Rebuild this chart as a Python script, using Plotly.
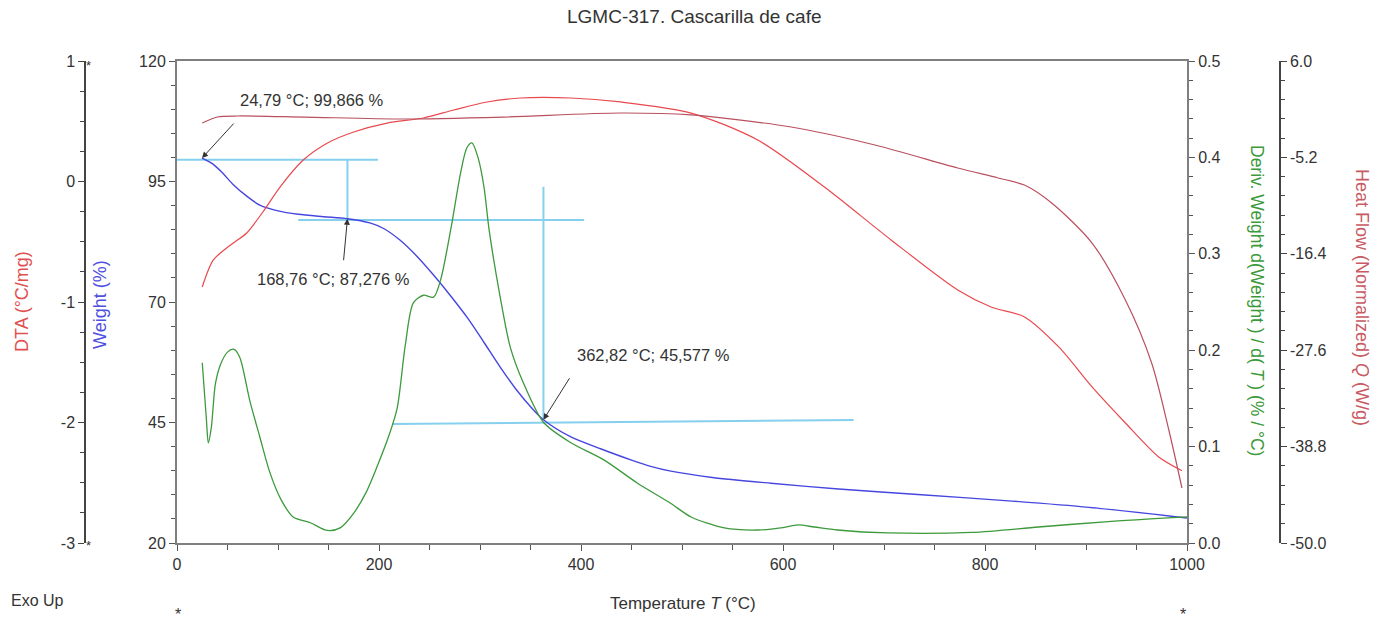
import plotly.graph_objects as go

# ---------------- data ----------------
weight_T = [24.79, 35, 45, 55, 70, 82, 100, 120, 145, 168.76, 191, 205, 221, 237, 254, 270, 288, 304,
            320, 336, 353, 362.82, 390, 420, 450, 469, 489, 530, 588, 655, 737, 820, 903, 1000]
weight_v = [99.866, 98.7, 96.8, 94.5, 91.8, 90.1, 88.9, 88.2, 87.7, 87.276, 86.4, 85.2, 82.8, 79.6, 75.6,
            71.5, 66.6, 61.6, 56.5, 51.8, 47.6, 45.577, 42.0, 39.5, 37.2, 35.9, 34.9, 33.6, 32.4, 31.2,
            30.0, 28.8, 27.4, 25.2]

deriv_T = [25, 29, 31, 34, 38, 43, 50, 56, 62, 72, 82, 92, 103, 115, 132, 149, 162, 175, 187, 198, 210,
           218, 226, 234, 244, 254, 261, 271, 281, 287, 292, 298, 304, 309, 320, 330, 343, 363, 390, 423,
           456, 489, 509, 542, 575, 600, 615, 631, 654, 704, 787, 853, 919, 1000]
deriv_v = [0.187, 0.13, 0.104, 0.12, 0.165, 0.185, 0.198, 0.201, 0.193, 0.148, 0.110, 0.073, 0.045, 0.027,
           0.021, 0.013, 0.016, 0.031, 0.052, 0.079, 0.112, 0.140, 0.205, 0.249, 0.257, 0.255, 0.273,
           0.325, 0.385, 0.410, 0.415, 0.400, 0.369, 0.325, 0.255, 0.203, 0.166, 0.125, 0.104, 0.086,
           0.062, 0.041, 0.027, 0.0156, 0.0135, 0.016, 0.0187, 0.0166, 0.0135, 0.0104, 0.011, 0.0166,
           0.022, 0.027]

dta_T = [25, 36, 53, 69, 85, 102, 125, 149, 175, 208, 244, 274, 307, 340, 390, 439, 509, 575, 641, 707,
         773, 806, 839, 873, 906, 939, 972, 995]
dta_v = [-0.876, -0.651, -0.527, -0.427, -0.253, -0.046, 0.178, 0.320, 0.411, 0.485, 0.527, 0.593, 0.660,
         0.693, 0.693, 0.660, 0.568, 0.344, -0.046, -0.485, -0.900, -1.041, -1.124, -1.373, -1.705,
         -2.004, -2.286, -2.40]

hf_T = [25, 40, 60, 125, 224, 323, 439, 509, 608, 691, 773, 813, 839, 866, 906, 939, 965, 982, 995]
hf_v = [-1.20, -0.51, -0.39, -0.51, -0.74, -0.51, -0.04, -0.27, -1.67, -3.76, -6.43, -7.59, -8.41,
        -10.50, -15.15, -21.77, -29.09, -36.87, -43.61]

# marked points (temperature, weight) and their labels
mark_T = [24.79, 168.76, 362.82]
mark_W = [99.866, 87.276, 45.577]
mark_labels = ["24,79 °C; 99,866 %", "168,76 °C; 87,276 %", "362,82 °C; 45,577 %"]

# guide (step) lines in (temperature, weight) units
guide_x0 = [0, 168.76, 120, 362.82, 213]
guide_y0 = [99.5, 99.5, 87.0, 93.9, 44.7]
guide_x1 = [199, 168.76, 403, 362.82, 670]
guide_y1 = [99.5, 87.0, 87.0, 45.577, 45.5]

dta_ticks = [1, 0, -1, -2, -3]
hf_ticks = [6.0, -5.2, -16.4, -27.6, -38.8, -50.0]

# ---------------- figure ----------------
W, H = 1387, 627
L_PX, R_PX, T_PX, B_PX = 177, 1187, 61, 543
FONT = "Liberation Sans, Arial, sans-serif"
GRAY = "#7f7f7f"
TXT = "#333333"
FS = 16

def px(xp):
    return xp / W

def py(yp):
    return (B_PX - yp) / (B_PX - T_PX)

fig = go.Figure()
fig.add_trace(go.Scatter(x=dta_T, y=dta_v, yaxis="y3", mode="lines",
                         line=dict(color="#e8494e", width=1.2, shape="spline", smoothing=0.8)))
fig.add_trace(go.Scatter(x=hf_T, y=hf_v, yaxis="y4", mode="lines",
                         line=dict(color="#b9505e", width=1.2, shape="spline", smoothing=0.8)))
fig.add_trace(go.Scatter(x=deriv_T, y=deriv_v, yaxis="y2", mode="lines",
                         line=dict(color="#3c9a3c", width=1.3, shape="spline", smoothing=0.8)))
fig.add_trace(go.Scatter(x=weight_T, y=weight_v, yaxis="y", mode="lines",
                         line=dict(color="#4646e0", width=1.4, shape="spline", smoothing=0.8)))

shapes = []
for x0, y0, x1, y1 in zip(guide_x0, guide_y0, guide_x1, guide_y1):
    shapes.append(dict(type="line", xref="x", yref="y", x0=x0, y0=y0, x1=x1, y1=y1,
                       line=dict(color="#86d0ef", width=2), layer="below"))

annotations = []
arrow_off = [(33, -36), (-4, 43), (27, -43)]
text_pos = [(312, 100), (333, 279), (653, 355)]

def txt(x, y, s, color=TXT, size=FS, angle=0):
    annotations.append(dict(x=px(x), y=py(y), xref="paper", yref="paper", text=s,
                            showarrow=False, textangle=angle, xanchor="center", yanchor="middle",
                            font=dict(family=FONT, size=size, color=color)))

for t, wv, lab, (ax, ay), (tx, ty) in zip(mark_T, mark_W, mark_labels, arrow_off, text_pos):
    annotations.append(dict(x=t, y=wv, xref="x", yref="y", text="", showarrow=True,
                            ax=ax, ay=ay, arrowhead=2, arrowsize=1.2, arrowwidth=1,
                            arrowcolor="#333333", standoff=0))
    txt(tx, ty, lab, size=16.5)

txt(694, 16, "LGMC-317. Cascarilla de cafe", size=19)
txt(37, 600, "Exo Up")
txt(683, 603, "Temperature <i>T</i> (°C)", size=17)
txt(178, 614, "*", size=16)
txt(1183, 614, "*", size=16)
txt(88, 66, "*", size=13)
txt(88, 545, "*", size=13)
txt(22, 302, "DTA (°C/mg)", color="#e05050", size=18, angle=-90)
txt(100, 305, "Weight (%)", color="#5050e0", size=18, angle=-90)
txt(1257, 300, "Deriv. Weight d(Weight ) / d( <i>T</i> ) (% / °C)", color="#3c9a3c", size=17.5, angle=90)
txt(1362, 297, "Heat Flow (Normalized) <i>Q</i> (W/g)", color="#c85a64", size=18, angle=90)

tickfont = dict(family=FONT, size=FS, color=TXT)

fig.update_layout(
    width=W, height=H,
    margin=dict(l=0, r=0, t=T_PX, b=H - B_PX, autoexpand=False),
    paper_bgcolor="white", plot_bgcolor="white",
    showlegend=False,
    shapes=shapes,
    annotations=annotations,
    xaxis=dict(domain=[px(L_PX), px(R_PX)], range=[0, 1000], tick0=0, dtick=200,
               ticks="outside", ticklen=6, tickcolor="#555", showgrid=False, zeroline=False,
               showline=True, linecolor=GRAY, linewidth=2, mirror=True, tickfont=tickfont,
               minor=dict(dtick=50, ticks="outside", ticklen=5, tickcolor="#555")),
    yaxis=dict(range=[20, 120], tick0=20, dtick=25, anchor="x", side="left",
               ticks="outside", ticklen=6, tickcolor="#555", showgrid=False, zeroline=False,
               showline=True, linecolor=GRAY, linewidth=2, tickfont=tickfont,
               minor=dict(dtick=5, ticks="outside", ticklen=4, tickcolor="#555")),
    yaxis2=dict(range=[0, 0.5], tick0=0, dtick=0.1, tickformat=".1f", overlaying="y",
                anchor="x", side="right", ticks="outside", ticklen=6, tickcolor="#555",
                showgrid=False, zeroline=False, showline=True, linecolor=GRAY, linewidth=2,
                tickfont=tickfont,
                minor=dict(dtick=0.02, ticks="outside", ticklen=4, tickcolor="#555")),
    yaxis3=dict(range=[-3, 1], tickvals=dta_ticks, ticktext=[str(v) for v in dta_ticks],
                overlaying="y", anchor="free",
                position=px(85), side="left", ticks="outside", ticklen=6, tickcolor="#444",
                showgrid=False, zeroline=False, showline=True, linecolor="#444", linewidth=1.5,
                tickfont=tickfont,
                minor=dict(tick0=-3, dtick=0.25, ticks="outside", ticklen=4, tickcolor="#444")),
    yaxis4=dict(range=[-50, 6], tickvals=hf_ticks, ticktext=[f"{v:.1f}" for v in hf_ticks],
                overlaying="y", anchor="free", position=px(1280), side="right",
                ticks="outside", ticklen=6, tickcolor="#444", showgrid=False, zeroline=False,
                showline=True, linecolor="#444", linewidth=1.5, tickfont=tickfont,
                minor=dict(tick0=-50, dtick=2.24, ticks="outside", ticklen=4, tickcolor="#444")),
)

fig.write_html("out.html")
